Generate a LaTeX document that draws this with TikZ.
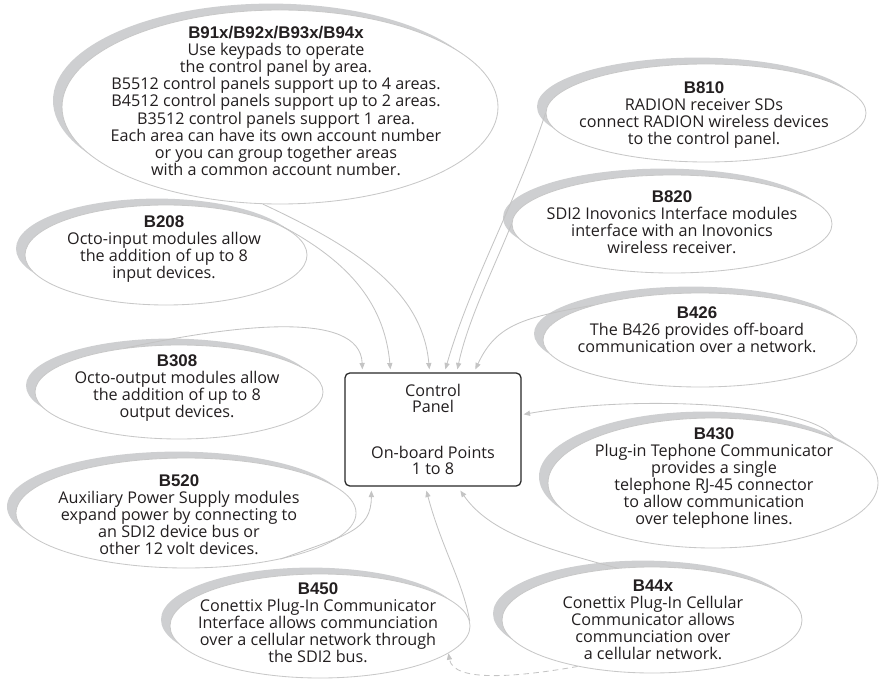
\documentclass[tikz,border=0pt]{standalone}
\usepackage{fontspec}
\setmainfont{Open Sans}
\newfontfamily\headfont{Liberation Sans}
\usetikzlibrary{positioning, shapes.geometric, shadows, arrows.meta, calc}

\newcommand{\modname}[1]{{\headfont\bfseries\fontsize{12}{12.1}\selectfont #1}}

\begin{document}
\begin{tikzpicture}[x=0.25mm, y=0.25mm,
  bubble/.style={ellipse, draw=edgegray, line width=0.6pt, fill=white, inner sep=0pt,
    drop shadow={shadow xshift=-2.25mm, shadow yshift=1.6mm, fill=shadegray, opacity=1}},
  blurb/.style={align=center, inner sep=0pt, text=inkgray,
    font=\fontsize{11.5}{12.1}\selectfont},
  panelbox/.style={draw=black!85, line width=0.9pt, rounded corners=1.2mm,
    minimum width=44mm, minimum height=28.25mm, align=center, inner sep=0pt,
    text=inkgray, font=\fontsize{11.5}{11.4}\selectfont},
  feed/.style={draw=arrowgray, line width=0.6pt, -{Triangle[length=1.6mm, width=1.3mm]}},
  backup/.style={feed, dash pattern=on 4pt off 3pt}
]

% Define colors
\definecolor{edgegray}{RGB}{200, 200, 200}
\definecolor{shadegray}{RGB}{206, 207, 209}
\definecolor{arrowgray}{RGB}{196, 196, 196}
\definecolor{inkgray}{RGB}{35, 31, 32}

\useasboundingbox (0,0) rectangle (880,-679);

% Draw the ellipses
\node[bubble, minimum width=109mm, minimum height=48.5mm] (b91x) at (280,-107) {};
\node[bubble, minimum width=70.5mm, minimum height=25mm] (b208) at (166,-255) {};
\node[bubble, minimum width=72mm, minimum height=23.5mm] (b308) at (179,-392) {};
\node[bubble, minimum width=85mm, minimum height=27.5mm] (b520) at (186,-513) {};
\node[bubble, minimum width=75mm, minimum height=26mm] (b450) at (320,-626) {};
\node[bubble, minimum width=75mm, minimum height=26.5mm] (b44x) at (652,-620) {};
\node[bubble, minimum width=82.5mm, minimum height=32.5mm] (b430) at (713,-483) {};
\node[bubble, minimum width=78.5mm, minimum height=23.5mm] (b426) at (700,-340) {};
\node[bubble, minimum width=80mm, minimum height=24.5mm] (b820) at (672,-224) {};
\node[bubble, minimum width=80mm, minimum height=24.5mm] (b810) at (706,-113) {};

% The control panel
\node[panelbox] (panel) at (433,-429.5) {Control\\Panel\\[7.5mm]On-board Points\\1 to 8};

% Add labels
\node[blurb] (b91xtxt) at (276,-101) {\modname{B91x/B92x/B93x/B94x}\\Use keypads to operate\\the control panel by area.\\B5512 control panels support up to 4 areas.\\B4512 control panels support up to 2 areas.\\B3512 control panels support 1 area.\\Each area can have its own account number\\or you can group together areas\\with a common account number.};
\node[blurb] (b208txt) at (164,-249) {\modname{B208}\\Octo-input modules allow\\the addition of up to 8\\input devices.};
\node[blurb] (b308txt) at (177,-388) {\modname{B308}\\Octo-output modules allow\\the addition of up to 8\\output devices.};
\node[blurb] (b520txt) at (179,-515) {\modname{B520}\\Auxiliary Power Supply modules\\expand power by connecting to\\an SDI2 device bus or\\other 12 volt devices.};
\node[blurb] (b450txt) at (318,-623) {\modname{B450}\\Conettix Plug-In Communicator\\Interface allows communciation\\over a cellular network through\\the SDI2 bus.};
\node[blurb] (b44xtxt) at (653,-620) {\modname{B44x}\\Conettix Plug-In Cellular\\Communicator allows\\communciation over\\a cellular network.};
\node[blurb] (b430txt) at (714,-478) {\modname{B430}\\Plug-in Tephone Communicator\\provides a single\\telephone RJ-45 connector\\to allow communication\\over telephone lines.};
\node[blurb] (b426txt) at (697,-330) {\modname{B426}\\The B426 provides off-board\\communication over a network.};
\node[blurb] (b820txt) at (672,-222) {\modname{B820}\\SDI2 Inovonics Interface modules\\interface with an Inovonics\\wireless receiver.};
\node[blurb] (b810txt) at (704,-115) {\modname{B810}\\RADION receiver SDs\\connect RADION wireless devices\\to the control panel.};

% Arrows into the top of the panel
\draw[feed] (b308.140) .. controls +(12:110) and +(92:60) .. ($(panel.north west)+(18,3)$);
\draw[feed] (b208.14) .. controls +(-28:70) and +(95:70) .. ($(panel.north west)+(46,3)$);
\draw[feed] (b91x.-100) .. controls +(-25:100) and +(95:80) .. ($(panel.north west)+(85,3)$);
\draw[feed] (b810.180) .. controls +(-108:90) and +(74:90) .. ($(panel.north west)+(101,3)$);
\draw[feed] (b820.180) .. controls +(-112:50) and +(78:50) .. ($(panel.north west)+(113,3)$);
\draw[feed] (b426.162) .. controls +(190:70) and +(65:50) .. ($(panel.north west)+(131,3)$);

% Arrow into the right side
\draw[feed] (b430.20) .. controls +(120:40) and +(10:120) .. ($(panel.north east)+(2,-42)$);

% Arrows into the bottom
\draw[feed] (b520.-26) .. controls +(20:70) and +(-90:40) .. ($(panel.south west)+(27,-4)$);
\draw[feed] (b450.2) .. controls +(100:40) and +(-75:60) .. ($(panel.south west)+(82,-4)$);
\draw[feed] (b44x.124) .. controls +(165:80) and +(-55:50) .. ($(panel.south west)+(116,-4)$);

% Dashed link between the communicators
\draw[backup] (b44x.212) .. controls +(190:60) and +(-80:30) .. (b450.-12);

\end{tikzpicture}
\end{document}
